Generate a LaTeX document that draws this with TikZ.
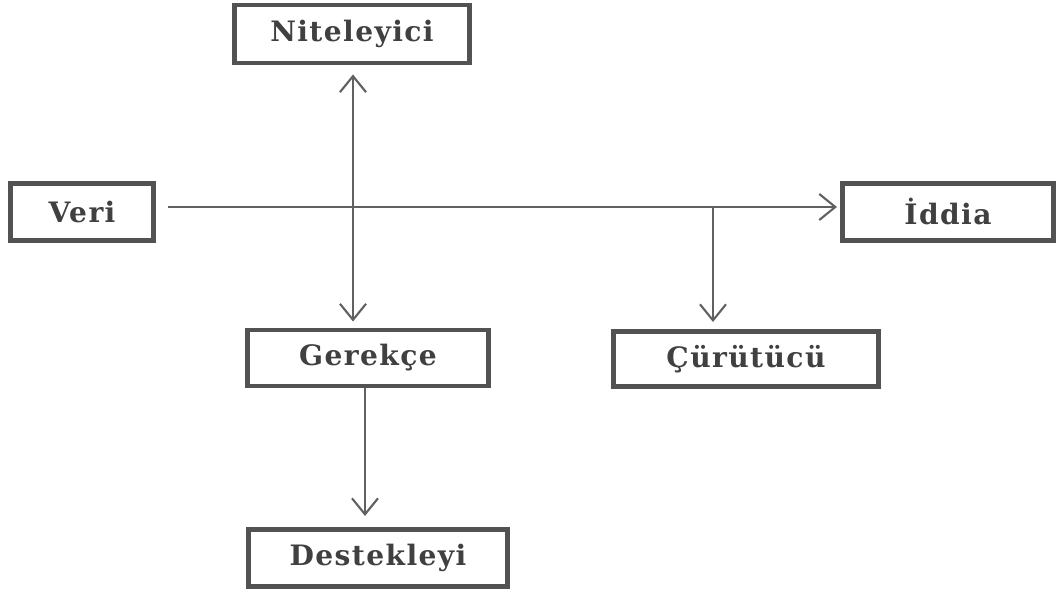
\documentclass[tikz,border=0pt]{standalone}
\usepackage{fontspec}
\usetikzlibrary{arrows.meta}
\newfontfamily\boxfont[LetterSpace=5]{DejaVu Serif}

\begin{document}
\begin{tikzpicture}[x=0.01cm,y=-0.01cm,
    box/.style={draw=black!68, line width=1.4pt, fill=white, text=black!75,
      font=\boxfont\bfseries\fontsize{8}{10}\selectfont, inner sep=0pt},
    link/.style={draw=black!62, line width=0.6pt},
    tip/.style={-{Straight Barb[length=1.6mm,width=2.6mm]}}]
    \useasboundingbox (0,0) rectangle (1059,592);
    % the six boxes
    \node[box, minimum width=2.35cm, minimum height=0.58cm] (niteleyici) at (352,34) {Niteleyici};
    \node[box, minimum width=1.43cm, minimum height=0.57cm] (veri) at (82,212) {Veri};
    \node[box, minimum width=2.11cm, minimum height=0.57cm] (iddia) at (948,212) {İddia};
    \node[box, minimum width=2.41cm, minimum height=0.56cm] (gerekce) at (368,358) {Gerekçe};
    \node[box, minimum width=2.65cm, minimum height=0.55cm] (curutucu) at (746,359) {Çürütücü};
    \node[box, minimum width=2.58cm, minimum height=0.57cm] (destekleyi) at (378,558) {Destekleyi};
    % arrows
    \coordinate (split) at (713,207);
    \draw[link, tip, shorten <=0.12cm, shorten >=0.03cm] (veri.east |- split) -- (iddia.west |- split);
    \draw[link, tip, shorten >=0.07cm] (split) -- (split |- curutucu.north);
    \draw[link, {Straight Barb[length=1.6mm,width=2.6mm]}-{Straight Barb[length=1.6mm,width=2.6mm]},
      shorten <=0.09cm, shorten >=0.06cm] ([xshift=0.01cm]niteleyici.south) -- ([xshift=0.01cm]niteleyici.south |- gerekce.north);
    \draw[link, tip, shorten >=0.11cm] ([xshift=-0.03cm]gerekce.south) -- ([xshift=-0.03cm]gerekce.south |- destekleyi.north);
\end{tikzpicture}
\end{document}
